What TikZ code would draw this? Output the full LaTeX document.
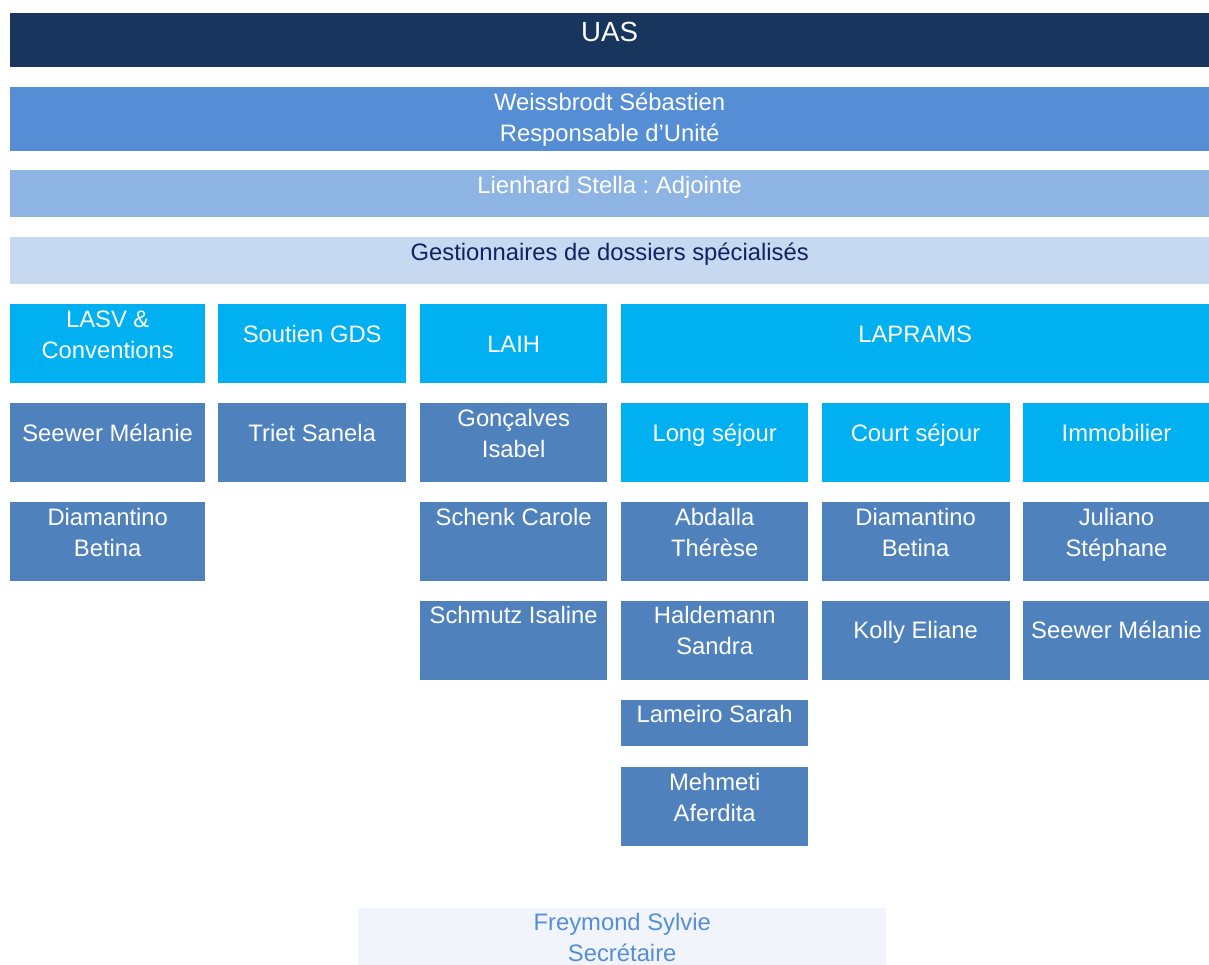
\documentclass[tikz,border=0pt]{standalone}
\usepackage{fontspec}
\setmainfont{Liberation Sans}
\usepackage{xcolor}
\usetikzlibrary{positioning}

\definecolor{uasnavy}{HTML}{18365D}
\definecolor{headblue}{HTML}{558ED5}
\definecolor{deputyblue}{HTML}{8EB4E3}
\definecolor{gdsblue}{HTML}{C6D9F1}
\definecolor{gdstext}{HTML}{0F2262}
\definecolor{unitcyan}{HTML}{00B0F0}
\definecolor{personblue}{HTML}{4F81BD}
\definecolor{secbg}{HTML}{F1F5FB}

\newcommand{\namefont}{\fontsize{23.8}{31}\selectfont\frenchspacing}

\begin{document}
\begin{tikzpicture}[x=1pt, y=-1pt,
    box/.style={rectangle, anchor=north west, inner sep=0pt, align=center,
        text=white, font=\namefont},
    bar/.style={box, minimum width=1199pt},
    unit/.style={box, fill=unitcyan, minimum height=79pt,
        text height=38pt, text depth=41pt},
    person/.style={box, fill=personblue, minimum height=79pt,
        text height=23pt, text depth=56pt},
    mid/.style={text height=38pt, text depth=41pt},
    twolines/.style={text height=54pt, text depth=25pt}
]
\useasboundingbox (0,0) rectangle (1209,965);

% top bars
\node[bar, fill=uasnavy, minimum height=54pt, text height=28pt, text depth=26pt,
    font=\fontsize{27.7}{33}\selectfont] (uas) at (10,13) {UAS};
\node[bar, fill=headblue, minimum height=64pt, text height=54pt, text depth=10pt,
    below=19.5pt of uas] (head) {Weissbrodt Sébastien\\Responsable d’Unité};
\node[bar, fill=deputyblue, minimum height=47pt, text height=23pt, text depth=24pt,
    below=19pt of head] (deputy) {Lienhard Stella : Adjointe};
\node[bar, fill=gdsblue, text=gdstext, minimum height=47pt, text height=23pt,
    text depth=24pt, below=19.5pt of deputy] (gds) {Gestionnaires de dossiers spécialisés};

% units
\node[unit, twolines, minimum width=195pt] (lasv) at (10,304) {LASV \&\\Conventions};
\node[unit, minimum width=188pt] (soutien) at (218,304) {Soutien GDS};
\node[unit, minimum width=187pt, text height=48pt, text depth=31pt] (laih) at (420,304) {LAIH};
\node[unit, minimum width=588pt] (laprams) at (621,304) {LAPRAMS};

% LASV
\node[person, mid, minimum width=195pt, below=19.5pt of lasv] (seewer) {Seewer Mélanie};
\node[person, twolines, minimum width=195pt, below=19.5pt of seewer] (diamantino) {Diamantino\\Betina};

% Soutien GDS
\node[person, mid, minimum width=188pt, below=19.5pt of soutien] (triet) {Triet Sanela};

% LAIH
\node[person, twolines, minimum width=187pt, below=19.5pt of laih] (goncalves) {Gonçalves\\Isabel};
\node[person, minimum width=187pt, below=19.5pt of goncalves] (schenk) {Schenk Carole};
\node[person, minimum width=187pt, below=19.5pt of schenk] (schmutz) {Schmutz Isaline};

% LAPRAMS
\node[unit, minimum width=187pt, below=19.5pt of laprams.south west, anchor=north west] (long) {Long séjour};
\node[unit, minimum width=188pt, right=13pt of long] (court) {Court séjour};
\node[unit, minimum width=187pt, right=13pt of court] (immo) {Immobilier};

\node[person, twolines, minimum width=187pt, below=19.5pt of long] (abdalla) {Abdalla\\Thérèse};
\node[person, twolines, minimum width=187pt, below=19.5pt of abdalla] (haldemann) {Haldemann\\Sandra};
\node[person, minimum width=187pt, minimum height=46pt, text height=22pt, text depth=24pt,
    below=20pt of haldemann] (lameiro) {Lameiro Sarah};
\node[person, twolines, minimum width=187pt, below=20.5pt of lameiro] (mehmeti) {Mehmeti\\Aferdita};

\node[person, twolines, minimum width=188pt, below=19.5pt of court] (diamantinoc) {Diamantino\\Betina};
\node[person, mid, minimum width=188pt, below=19.5pt of diamantinoc] (kolly) {Kolly Eliane};

\node[person, twolines, minimum width=187pt, below=19.5pt of immo] (juliano) {Juliano\\Stéphane};
\node[person, mid, minimum width=187pt, below=19.5pt of juliano] (seewerim) {Seewer Mélanie};

% secretary
\node[box, fill=secbg, text=headblue, minimum width=528pt, minimum height=57pt,
    text height=53pt, text depth=4pt] (secretary) at (358,908) {Freymond Sylvie\\Secrétaire};
\end{tikzpicture}
\end{document}
